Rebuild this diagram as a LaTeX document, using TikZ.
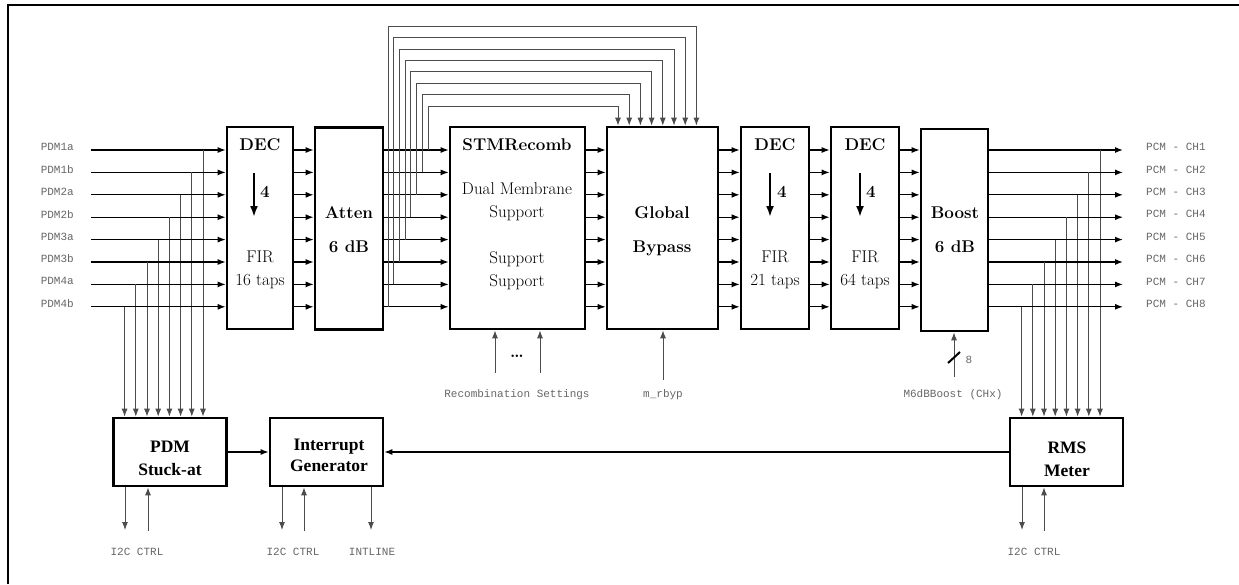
\documentclass[tikz,border=0pt]{standalone}
\usepackage{fontspec}
\newfontfamily\sigfont{Liberation Mono}
\newfontfamily\ctlfont{Liberation Serif}
\usetikzlibrary{arrows.meta,positioning}

\begin{document}
\begin{tikzpicture}[x=1pt,y=-1pt,
  tallbox/.style={draw,line width=2.6pt,minimum width=#1,minimum height=202pt,inner sep=0pt},
  ctlbox/.style={draw,line width=2.6pt,minimum width=113pt,minimum height=68pt,inner sep=0pt},
  hd/.style={font=\fontsize{17}{23}\selectfont\bfseries,inner sep=0pt,anchor=base},
  body/.style={font=\fontsize{17}{23}\selectfont,align=center,inner sep=0pt},
  ttl/.style={font=\fontsize{17}{23}\selectfont\bfseries,align=center,inner sep=0pt},
  ctltxt/.style={font=\ctlfont\fontsize{17.5}{#1}\selectfont\bfseries,align=center,inner sep=0pt},
  sig/.style={font=\sigfont\fontsize{11}{13}\selectfont,text=black!60,inner sep=0pt},
  wire/.style={line width=1.3pt,-{Latex[length=8pt,width=6pt]}},
  tap/.style={line width=1pt,draw=black!70,-{Latex[length=8pt,width=6pt]}},
  decim/.style={line width=2pt,-{Latex[length=11pt,width=8pt]}}]
\useasboundingbox (0,0) rectangle (1239,584);
\draw[line width=2.5pt] (8,584) -- (8,5) -- (1239,5);

\node[tallbox=66pt] (dec1) at (260,228) {};
\node[tallbox=68pt] (atten) at (349,228.5) {};
\node[tallbox=135pt] (stm) at (517.5,228) {};
\node[tallbox=111pt] (bypass) at (662.5,228) {};
\node[tallbox=68pt] (dec2) at (775,228) {};
\node[tallbox=68pt] (dec3) at (865,228) {};
\node[tallbox=67pt] (boost) at (954.5,230) {};
\node[ctlbox] (pdm) at (170,452) {};
\node[ctlbox] (irq) at (326.5,452) {};
\node[ctlbox] (rms) at (1066.5,452) {};

\node[hd] (dec1h) at (260,150) {DEC};
\node[hd] (dec1r) at (265,197) {4};
\draw[decim] (254,173) -- (254,217);
\node[body] (dec1f) at (260,270) {FIR\\16 taps};
\node[ttl] (attent) at (349,229.5) {Atten\\[11pt]6 dB};
\node[hd] (stmh) at (517,150) {STMRecomb};
\node[body] (stmd) at (517,202) {Dual Membrane\\Support};
\node[body] (stms) at (517,271) {Support\\Support};
\node[ttl] (bypasst) at (662,231) {Global\\[11pt]Bypass};
\node[hd] (dec2h) at (775,150) {DEC};
\node[hd] (dec2r) at (782,197) {4};
\draw[decim] (770,173) -- (770,217);
\node[body] (dec2f) at (775,270) {FIR\\21 taps};
\node[hd] (dec3h) at (865,150) {DEC};
\node[hd] (dec3r) at (871,197) {4};
\draw[decim] (860,173) -- (860,217);
\node[body] (dec3f) at (865,270) {FIR\\64 taps};
\node[ttl] (boostt) at (955,229.5) {Boost\\[11pt]6 dB};
\node[ctltxt=23pt] (pdmt) at (170,458.5) {PDM\\Stuck-at};
\node[ctltxt=21pt] (irqt) at (329,455) {Interrupt\\Generator};
\node[ctltxt=23pt] (rmst) at (1067,459) {RMS\\Meter};

\foreach \i/\lab in {1/PDM1a,2/PDM1b,3/PDM2a,4/PDM2b,5/PDM3a,6/PDM3b,7/PDM4a,8/PDM4b}{
  \pgfmathsetmacro\ry{150+22.4*(\i-1)}
  \coordinate (row\i) at (0,\ry);
  \coordinate (src\i) at (91,\ry);
  \coordinate (dst\i) at (1123,\ry);
  \coordinate (ptap\i) at ({203-11.2*(\i-1)},\ry);
  \coordinate (btap\i) at ({428-5.7*(\i-1)},\ry);
  \coordinate (bhop\i) at ({618+11.2*(\i-1)},{106-11.4*(\i-1)});
  \coordinate (rtap\i) at ({1100-11.2*(\i-1)},\ry);
  \node[sig,left=17pt of src\i,yshift=3pt] (in\i) {\lab};
  \node[sig,right=23pt of dst\i,yshift=3pt] (out\i) {PCM - CH\i};
  \draw[wire] (src\i) -- (dec1.west |- src\i);
  \foreach \a/\b in {dec1/atten,atten/stm,stm/bypass,bypass/dec2,dec2/dec3,dec3/boost}
    \draw[wire] (\a.east |- row\i) -- (\b.west |- row\i);
  \draw[wire] (boost.east |- row\i) -- (dst\i);
  \draw[tap] (ptap\i) -- (ptap\i |- pdm.north);
  \draw[tap] (btap\i) |- (bhop\i) -- (bhop\i |- bypass.north);
  \draw[tap] (rtap\i) -- (rtap\i |- rms.north);
}

\draw[wire] (pdm.east) -- (irq.west);
\draw[wire] (rms.west) -- (irq.east);

\coordinate (pdmo) at (125,530);
\coordinate (pdmi) at (148,531);
\draw[tap] (pdm.south -| pdmo) -- (pdmo);
\draw[tap] (pdmi) -- (pdm.south -| pdmi);
\node[sig,anchor=base] (pdmc) at (137,555) {I2C CTRL};

\coordinate (irqo) at (282,530);
\coordinate (irqi) at (304,531);
\coordinate (irqint) at (371,530);
\draw[tap] (irq.south -| irqo) -- (irqo);
\draw[tap] (irqi) -- (irq.south -| irqi);
\draw[tap] (irq.south -| irqint) -- (irqint);
\node[sig,anchor=base] (irqc) at (293,555) {I2C CTRL};
\node[sig,anchor=base] (irql) at (372,555) {INTLINE};

\coordinate (rmso) at (1022,530);
\coordinate (rmsi) at (1044,531);
\draw[tap] (rms.south -| rmso) -- (rmso);
\draw[tap] (rmsi) -- (rms.south -| rmsi);
\node[sig,anchor=base] (rmsc) at (1034,555) {I2C CTRL};

\coordinate (stmi1) at (495,373);
\coordinate (stmi2) at (540,373);
\draw[tap] (stmi1) -- (stmi1 |- stm.south);
\draw[tap] (stmi2) -- (stmi2 |- stm.south);
\node[font=\fontsize{17}{20}\selectfont\bfseries,inner sep=0pt] (stmdots) at (517,356) {\ldots};
\node[sig,anchor=base] (stml) at (517,397) {Recombination Settings};

\coordinate (bypi) at (663,380);
\draw[tap] (bypi) -- (bypi |- bypass.south);
\node[sig,anchor=base] (bypl) at (663,397) {m\_rbyp};

\coordinate (booi) at (954,377);
\draw[tap] (booi) -- (booi |- boost.south);
\draw[line width=2pt] (948,363) -- (960,352);
\node[sig] (boow) at (969,360) {8};
\node[sig,anchor=base] (bool) at (953,397) {M6dBBoost (CHx)};
\end{tikzpicture}
\end{document}
